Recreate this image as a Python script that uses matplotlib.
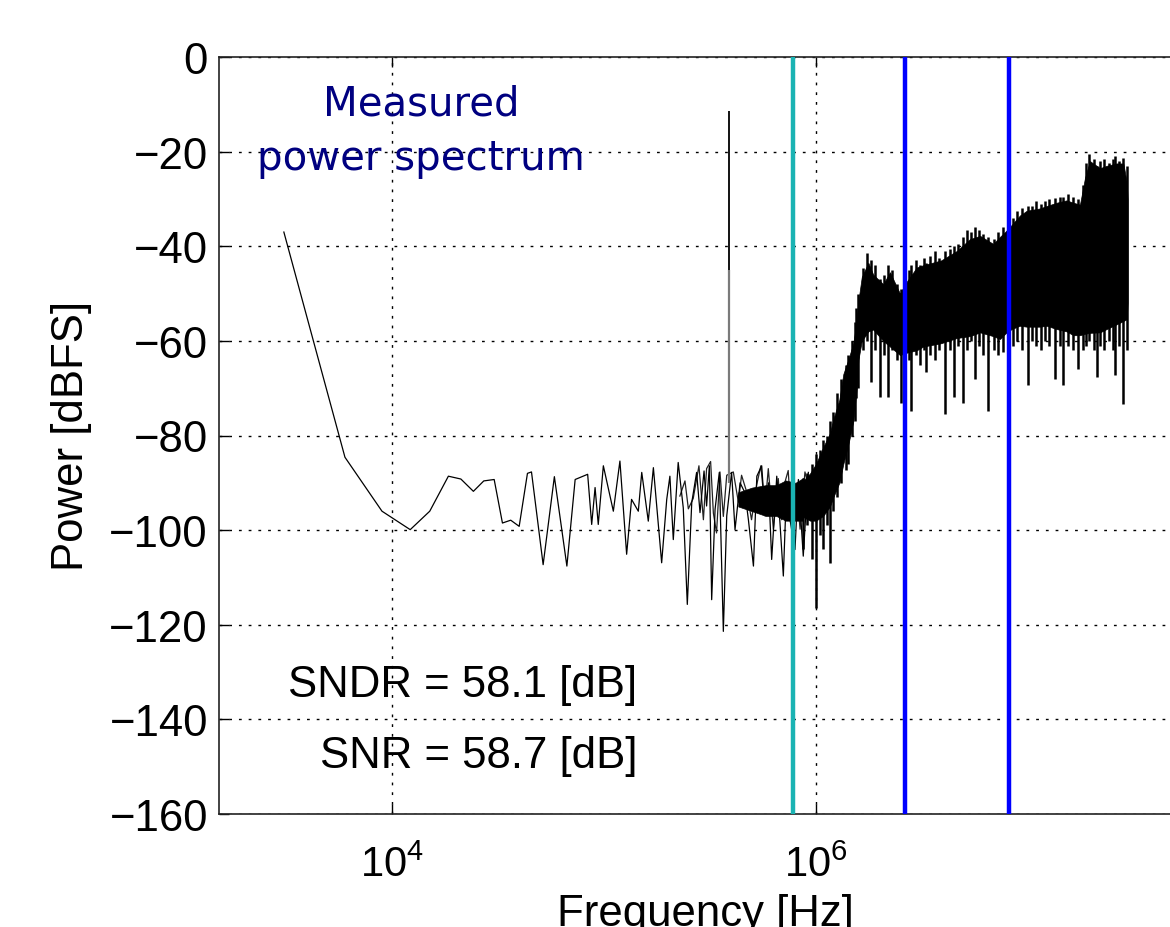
import numpy as np
import matplotlib
matplotlib.use("Agg")
import matplotlib.pyplot as plt
from matplotlib.ticker import FixedLocator, NullLocator

# ---------------- data ----------------
# main trace, sparse / semi-dense part of the spectrum (kHz, dBFS)
line_khz = [3.09, 6.00, 8.97, 12.19, 15.07, 18.45, 21.13, 24.21, 27.10, 30.34,
            33.19, 36.31, 39.81, 43.55, 45.50, 51.64, 58.34, 66.83, 73.11, 83.75,
            87.50, 90.78, 93.97, 99.31, 110.7, 118.9, 127.9, 134.9, 145.2, 150.7,
            161.8, 171.0, 187.1, 197.7, 204.6, 212.3, 223.9, 236.6, 247.2, 259.4,
            273.5, 283.8, 296.5, 304.8, 314.1, 322.1, 334.2, 349.9, 365.6, 379.3,
            399.9, 415.0, 438.5, 462.4, 479.7, 507.0, 526.0, 554.6, 575.4, 597.0,
            618.0, 653.1, 676.1, 701.5, 727.8, 753.4, 796.2, 826.0, 871.0, 920.4]
line_db = [-37, -84.6, -96, -99.9, -96, -88.6, -89.2, -91.8, -89.6, -89.3,
           -98.5, -97.9, -99.2, -88, -87.7, -107.3, -88.7, -107.6, -89.3, -88.2,
           -98.8, -91, -98.8, -86.4, -96, -85.4, -105.1, -93.5, -96, -87.8,
           -98.1, -86.8, -106.9, -93.5, -88.6, -102, -85.7, -95.3, -115.7, -94.2,
           -87.8, -96.3, -87.5, -94.9, -86.4, -114.7, -95.6, -87.8, -121.4, -97,
           -87.8, -99.9, -90, -92.1, -97.7, -107.6, -88.6, -86.4, -97, -90,
           -106.2, -88.6, -98.4, -109.7, -90, -97.7, -104.1, -89.3, -105.5, -87.8]

# interleaved second trace in the dense noise floor (kHz, dBFS)
floor_khz = [228.0, 241.0, 250.0, 263.6, 280.5, 294.4, 304.8, 318.4, 328.1, 339.6,
             352.4, 365.6, 379.3, 407.4, 430.5, 445.6, 471.0, 496.6, 524.8, 549.5,
             574.1, 595.7, 629.5, 663.7, 688.7, 714.5, 739.6, 767.4, 810.3, 841.4,
             887.2, 920.4]
floor_db = [-92.8, -89.6, -95.5, -93.3, -86.4, -97.8, -87, -85.5, -96.4, -100.6,
            -87.7, -97.1, -88.4, -87.7, -94.1, -88.4, -91.9, -97.8, -90.5, -86.4,
            -95.5, -87, -99.8, -89.1, -97.8, -89.8, -87.4, -99.1, -91.2, -99.8,
            -87.7, -90.5]

# solid core of the noise floor below 1 MHz (kHz, top dB, bottom dB)
core_khz = [430, 500, 580, 650, 720, 800, 870]
core_top = [-92, -91, -90.5, -90.5, -89.5, -90, -89]
core_bot = [-95, -96, -97, -97, -98, -98, -98]

# solid dense band above ~850 kHz (kHz, upper dB, lower dB)
band_khz = [851, 938, 1000, 1081, 1164, 1208, 1288, 1346, 1419, 1500,
            1556, 1585, 1644, 1766, 1862, 2075, 2234, 2489, 2679, 2985,
            3206, 3890, 4613, 5321, 5943, 6855, 7379, 7798, 8375, 9162,
            9863, 11400, 12250, 13650, 15210, 16370, 17580, 18580, 19590, 21880,
            23500, 26180, 28180, 29240, 29510]
band_top = [-90, -88, -86, -82.5, -79.5, -76.5, -72.5, -67, -64, -60.5,
            -55.5, -51.5, -46.5, -43.5, -46, -48, -45.5, -50, -47.5, -44.5,
            -44, -43, -41, -38.5, -37.8, -39.5, -38, -37, -35.5, -33.5,
            -32.5, -32, -31.5, -30.8, -30.3, -30.8, -31.2, -25.5, -22, -23.5,
            -23, -22.5, -22.5, -26.5, -30]
band_bot = [-97, -98, -98, -97, -95, -93, -90, -86, -82, -77,
            -70, -64, -60, -58, -57.6, -60, -61.2, -63, -62.5, -62,
            -61.2, -60.5, -59.4, -59, -58.2, -59, -59.6, -58.5, -57.5, -56.8,
            -57, -57, -56.8, -57.5, -58, -58.8, -58.8, -58.5, -58.3, -58.2,
            -57.5, -56.5, -55.8, -55.4, -52]

# individual vertical excursions of the dense part (kHz, low dB, high dB)
stroke_khz = [871, 912, 955, 1000, 1047, 1081, 1122, 1164, 1202, 1259,
              1318, 1380, 1419, 1479, 1528, 1549,
              1585, 1660, 1738, 1820, 1905, 1995, 2089, 2188, 2291, 2399,
              2512, 2630, 2754, 2818, 2951, 3090, 3236, 3311, 3467, 3631,
              3802, 4074, 4266, 4467, 4677, 4955, 5129, 5370, 5623, 5888,
              6166, 6501, 6918, 7244, 7656, 8128, 8511, 8913, 9333, 10050,
              10470, 10960, 11480, 12020, 12590, 13430, 14130, 14690, 15490, 16220,
              17300, 18200, 18840, 19500, 20420, 21090, 21880, 22910, 23990, 25120,
              25700, 26920, 28180, 29170]
stroke_low = [-104, -99, -106, -116.5, -101, -104, -99, -107, -96, -93,
              -90, -87.3, -86, -80, -77, -72,
              -70, -62, -60, -68.6, -62, -71.8, -63, -71.9, -62, -64,
              -73.1, -66, -64, -74.8, -63, -65, -62, -66.6, -63, -64,
              -62, -75.4, -62, -71.8, -61, -73.1, -62, -60, -68, -61,
              -63, -74.8, -62, -63, -62.4, -60, -61, -60, -62, -69.4,
              -60, -61, -62, -60, -61, -68, -61, -69.4, -61, -62,
              -65.9, -62, -61, -60, -62, -67.7, -61, -62, -60, -62,
              -67.3, -61, -73.4, -62]
stroke_high = [-89, -88, -86, -84, -83, -81, -80, -77, -75, -71,
               -68, -65, -63, -60, -56, -53,
               -50, -44.5, -41.5, -43, -44, -47, -46, -44, -45, -48,
               -49, -47, -45, -44, -43, -44, -42.5, -43.5, -42, -41,
               -42.5, -41, -40.5, -40, -39.5, -38, -36.5, -37, -36, -36.5,
               -37.5, -38, -38.5, -37, -36, -34.5, -34, -32.5, -32, -31.5,
               -31.5, -30.5, -31, -30.5, -30, -29.8, -29.5, -29.5, -29, -29.5,
               -30, -27, -22.5, -20.5, -21.5, -23, -22, -21.5, -22.5, -21.5,
               -21, -22, -21.3, -23]

# signal tone (kHz, dB from bottom through the grey part to the top)
tone_khz = 388
tone_db = [-90, -45, -11.5]

# band markers
cyan_khz = [780]
blue_khz = [2630, 8100]

y_ticks = [-160, -140, -120, -100, -80, -60, -40, -20, 0]
x_ticks = [1e2, 1e4, 1e6, 1e8]

# ---------------- figure ----------------
W, H = 1170, 928
plt.rcParams['font.family'] = ['Liberation Sans', 'DejaVu Sans']
plt.rcParams['mathtext.fontset'] = 'custom'
plt.rcParams['mathtext.rm'] = 'Liberation Sans'
plt.rcParams['mathtext.it'] = 'Liberation Sans'
plt.rcParams['lines.scale_dashes'] = False

fig = plt.figure(figsize=(W / 100, H / 100), dpi=100)
L, R, T, B = 219, 1191, 58, 815
ax = fig.add_axes([L / W, (H - B) / H, (R - L) / W, (B - T) / H])

k = 1e3
ax.plot(np.array(floor_khz) * k, floor_db, color='#222222', lw=0.9, zorder=3)
ax.plot(np.array(line_khz) * k, line_db, color='black', lw=0.9, zorder=3)
ax.fill_between(np.array(core_khz) * k, core_top, core_bot, color='black', lw=0.5, zorder=3)
ax.fill_between(np.array(band_khz) * k, band_top, band_bot, color='black', lw=0.5, zorder=3)
ax.vlines(np.array(stroke_khz) * k, stroke_low, stroke_high, color='black', lw=1.8, zorder=3)
ax.vlines(tone_khz * k, tone_db[0], tone_db[1], color='#7a7a7a', lw=1.6, zorder=3)
ax.vlines(tone_khz * k, tone_db[1], tone_db[2], color='black', lw=1.3, zorder=3)

for f in cyan_khz:
    ax.axvline(f * k, color='#1ab3b3', lw=3.2, zorder=4)
for f in blue_khz:
    ax.axvline(f * k, color='#0000ff', lw=3.2, zorder=4)

ax.set_xscale('log')
ax.set_xlim(10 ** 3.184, 10 ** 7.769)
ax.set_ylim(-160, 0)
ax.xaxis.set_major_locator(FixedLocator(x_ticks))
ax.xaxis.set_minor_locator(NullLocator())
ax.set_yticks(y_ticks)

ax.grid(True, which='major', color='black', linestyle=(0, (2.0, 5.0)), lw=1.0)
ax.set_axisbelow(True)
ax.tick_params(direction='in', length=7, width=1, top=True, right=True)
ax.tick_params(axis='y', labelsize=31.5, pad=8)
ax.tick_params(axis='x', labelsize=30, pad=22)
for s in ax.spines.values():
    s.set_linewidth(1.2)
    s.set_color('#222222')

fig.text(72 / W, 1 - 436 / H, 'Power [dBFS]', rotation=90, ha='center', va='center', fontsize=31.5)
fig.text(705 / W, 2 / H, 'Frequency [Hz]', ha='center', va='baseline', fontsize=31.5)

fig.text(421 / W, 1 - 115 / H, 'Measured', ha='center', va='baseline',
         fontsize=29, color='#000080', family='DejaVu Sans')
fig.text(421 / W, 1 - 170 / H, 'power spectrum', ha='center', va='baseline',
         fontsize=29, color='#000080', family='DejaVu Sans')

fig.text(637 / W, 1 - 697 / H, 'SNDR = 58.1 [dB]', ha='right', va='baseline', fontsize=31.5)
fig.text(637 / W, 1 - 768 / H, 'SNR = 58.7 [dB]', ha='right', va='baseline', fontsize=31.5)

fig.savefig('out.png', dpi=100)
